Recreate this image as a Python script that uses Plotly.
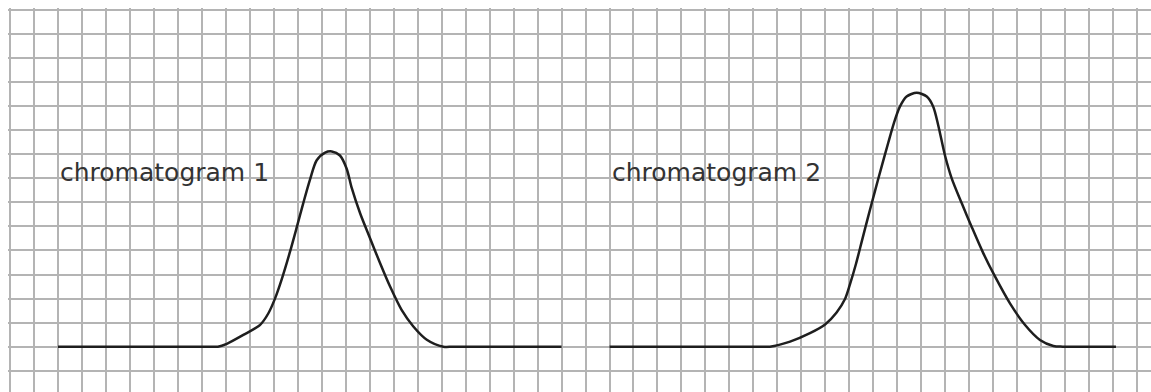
import plotly.graph_objects as go

# Grid units: x in grid squares from the left grid edge, y in squares above the baseline
peak1_x = [2.0, 8.2, 8.67, 9.04, 9.73, 10.43, 10.77, 11.05, 11.33, 11.68, 11.96, 12.23,
           12.51, 12.79, 13.14, 13.42, 13.76, 14.04, 14.25, 14.60, 15.01, 15.43,
           15.85, 16.33, 16.82, 17.38, 18.07, 18.5, 23.0]
peak1_y = [0.0, 0.0, 0.0, 0.12, 0.49, 0.91, 1.38, 2.00, 2.80, 3.96, 4.97, 5.97,
           6.95, 7.75, 8.07, 8.12, 7.95, 7.40, 6.60, 5.55, 4.52, 3.48,
           2.50, 1.53, 0.84, 0.29, 0.0, 0.0, 0.0]

peak2_x = [25.0, 31.2, 31.69, 32.53, 33.36, 33.99, 34.47, 34.82, 35.03, 35.28, 35.52,
           35.79, 36.07, 36.35, 36.63, 36.86, 37.11, 37.39, 37.81, 38.23, 38.50,
           38.71, 38.99, 39.27, 39.69, 40.10, 40.59, 41.08, 41.70, 42.33, 42.95,
           43.51, 43.9, 46.12]
peak2_y = [0.0, 0.0, 0.0, 0.21, 0.56, 0.92, 1.42, 1.98, 2.60, 3.45, 4.38,
           5.42, 6.47, 7.50, 8.50, 9.30, 9.98, 10.40, 10.56, 10.40, 9.98,
           9.20, 7.95, 7.00, 5.96, 4.99, 3.88, 2.91, 1.80, 0.90, 0.28,
           0.03, 0.0, 0.0]

labels = ["chromatogram 1", "chromatogram 2"]
label_x = [2.0, 25.0]
label_y = [7.26, 7.26]

fig = go.Figure()
for xs, ys in [(peak1_x, peak1_y), (peak2_x, peak2_y)]:
    fig.add_trace(go.Scatter(
        x=xs, y=ys, mode="lines",
        line=dict(color="#1e1e1e", width=2.5, shape="spline", smoothing=0.8),
        hoverinfo="skip", showlegend=False,
    ))

for t, x, y in zip(labels, label_x, label_y):
    fig.add_annotation(
        x=x, y=y, text=t, showarrow=False, xanchor="left", yanchor="middle",
        font=dict(family="DejaVu Sans", size=25, color="#333333"),
    )

grid_style = dict(showgrid=True, gridcolor="#b4b4b4", gridwidth=1.7, dtick=1,
                  tick0=0, zeroline=False, showticklabels=False, ticks="",
                  showline=False, fixedrange=True)

fig.update_layout(
    width=1151, height=392,
    margin=dict(l=8, r=0, t=8, b=0, pad=0),
    paper_bgcolor="white", plot_bgcolor="white",
    xaxis=dict(range=[-0.0834, 47.581], **grid_style),
    yaxis=dict(range=[-1.884, 14.083], **grid_style),
)

fig.write_html(
    "out.html",
    config={"displayModeBar": False},
    post_script="document.body.style.margin='0';document.body.style.overflow='hidden';",
)
